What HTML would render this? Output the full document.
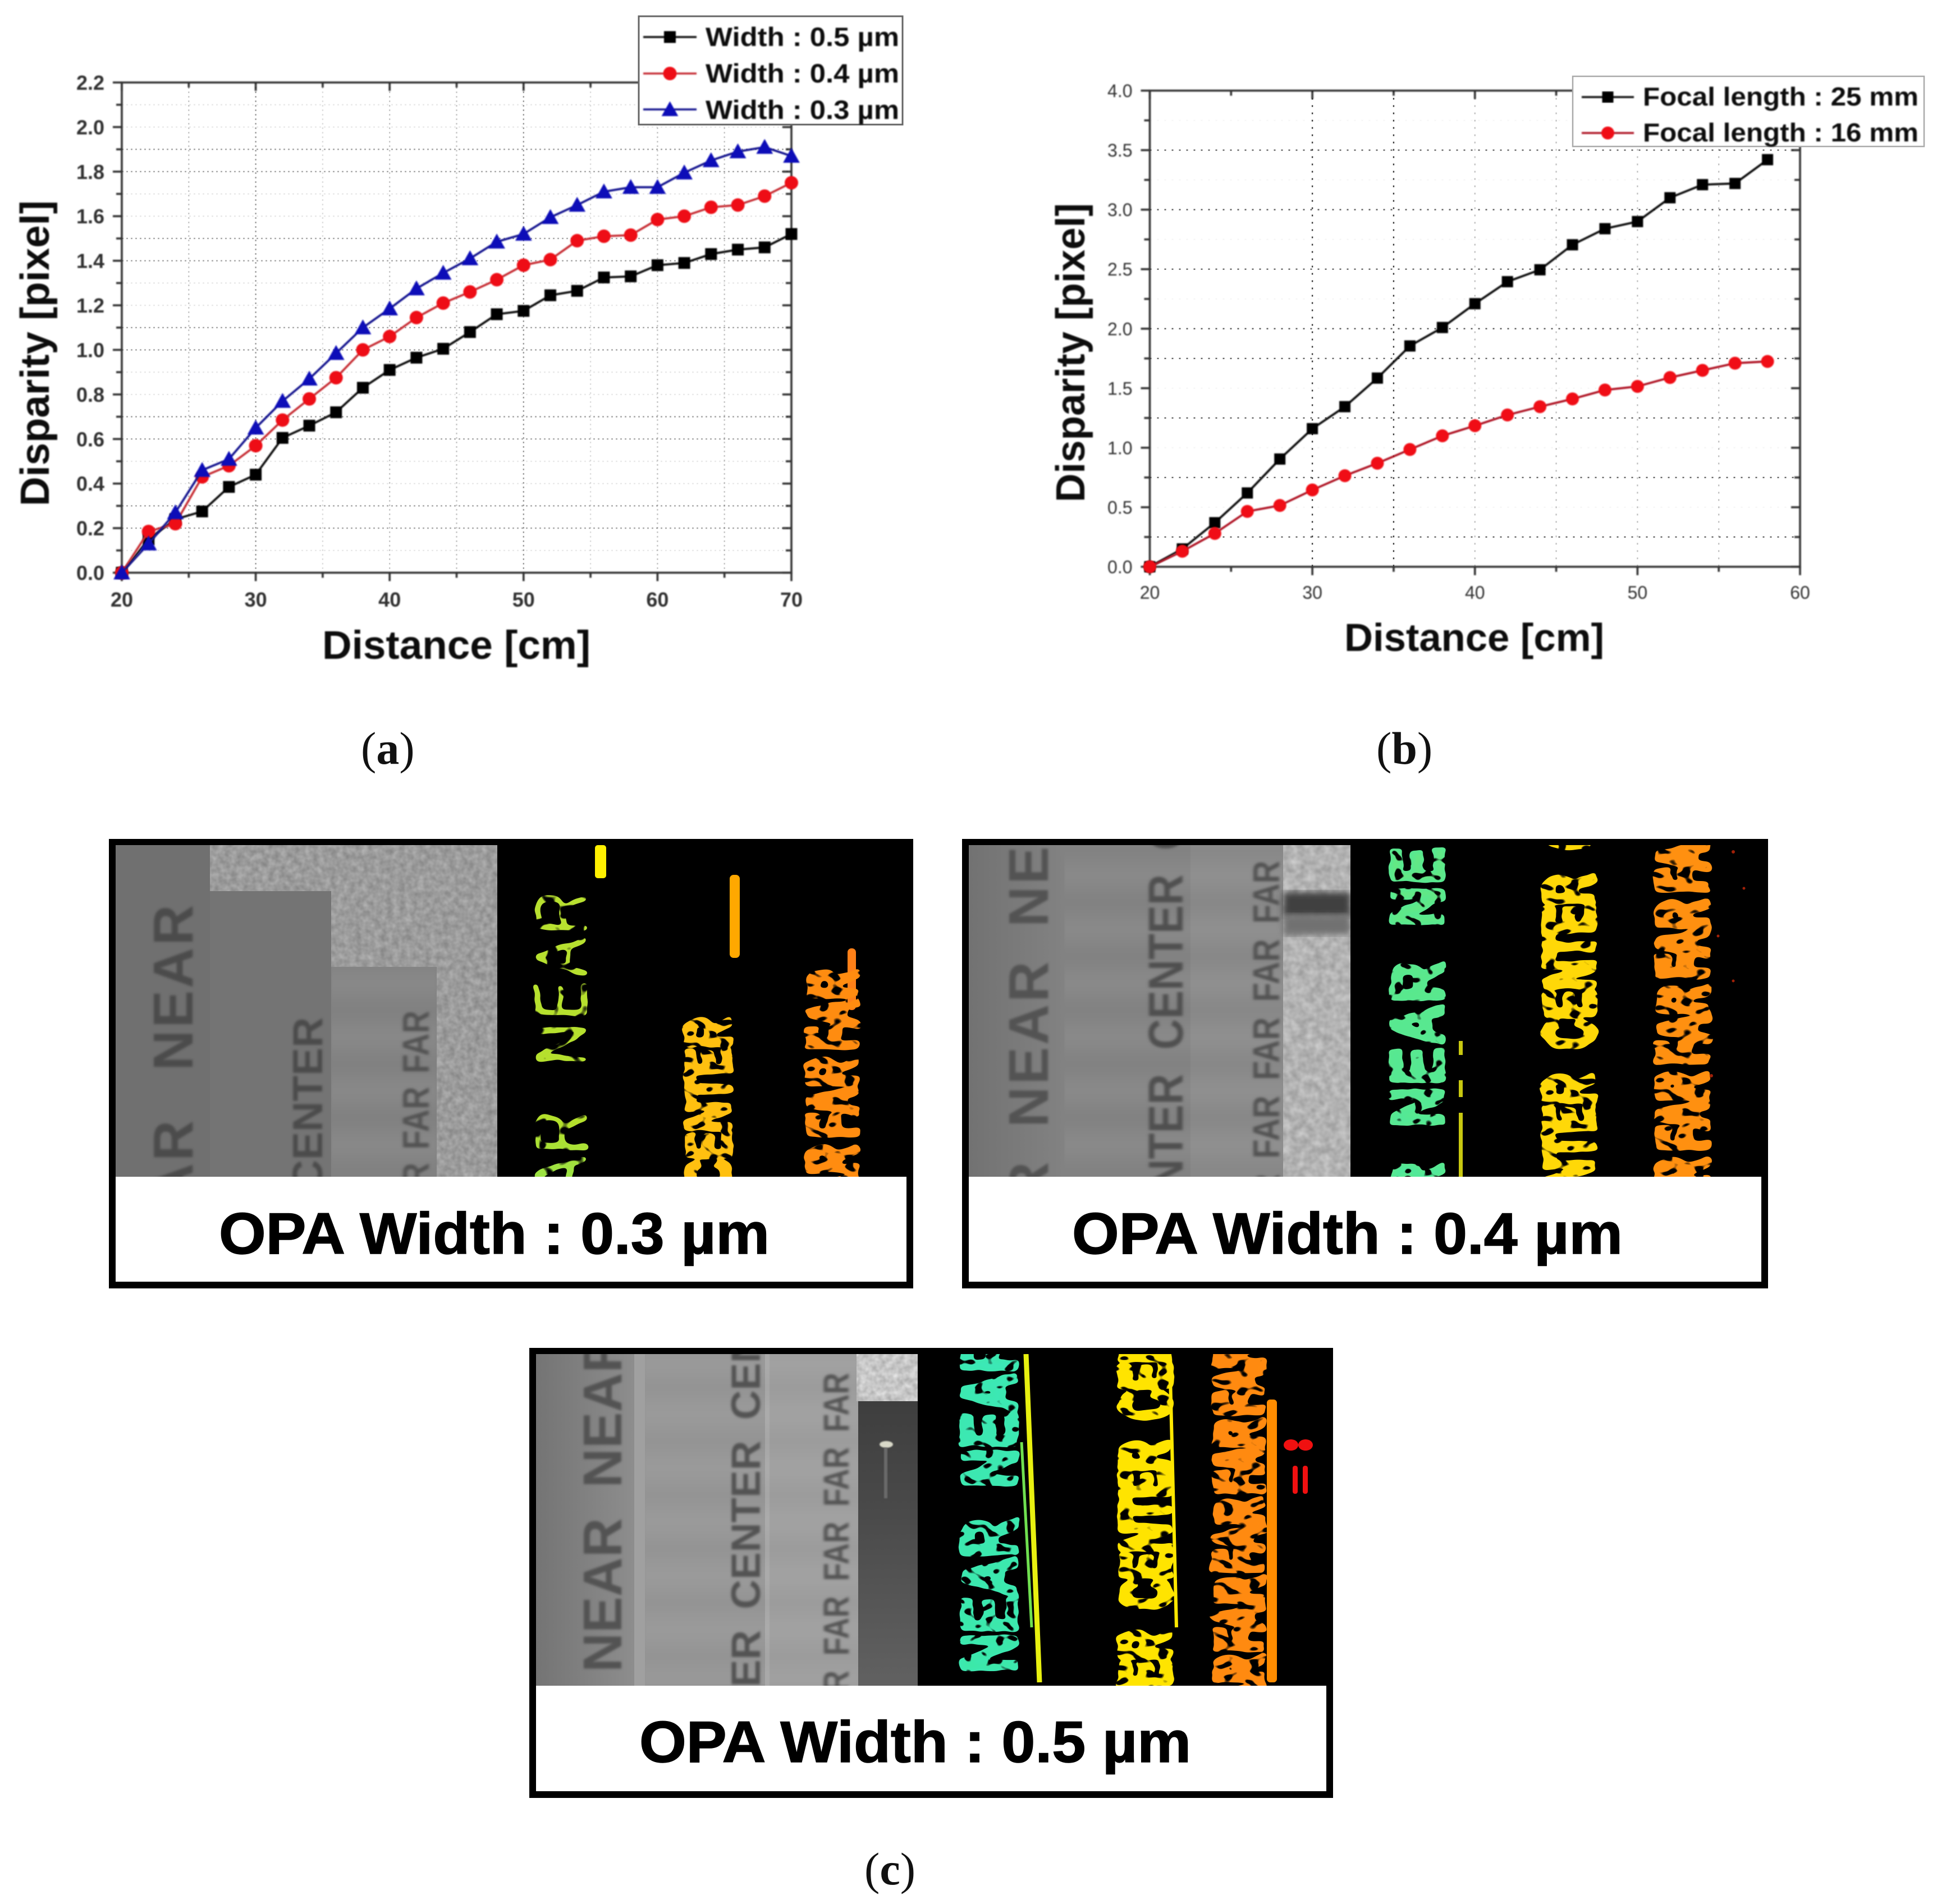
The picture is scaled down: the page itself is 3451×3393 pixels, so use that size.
<!DOCTYPE html>
<html lang="en">
<head>
<meta charset="utf-8">
<title>Disparity charts and OPA width results</title>
<style>
html,body{margin:0;padding:0;background:#fff;width:3451px;height:3393px;overflow:hidden}
svg{display:block;font-family:"Liberation Sans",sans-serif}
</style>
</head>
<body>
<svg id="figure" xmlns="http://www.w3.org/2000/svg" width="3451" height="3393" viewBox="0 0 3451 3393">
<defs>
<filter id="soft" x="-5%" y="-5%" width="110%" height="110%"><feGaussianBlur stdDeviation="1"/></filter>
<filter id="softText" x="-10%" y="-30%" width="120%" height="160%"><feGaussianBlur stdDeviation="1.1"/></filter>
<filter id="blurText" x="-10%" y="-30%" width="120%" height="160%"><feGaussianBlur stdDeviation="2.2"/></filter>
<filter id="blob" x="-10%" y="-30%" width="120%" height="160%" color-interpolation-filters="sRGB">
<feTurbulence type="fractalNoise" baseFrequency="0.05" numOctaves="2" seed="4" result="n"/>
<feDisplacementMap in="SourceGraphic" in2="n" scale="9" xChannelSelector="R" yChannelSelector="G"/>
<feGaussianBlur stdDeviation="2.8"/>
<feComponentTransfer result="body"><feFuncA type="linear" slope="14" intercept="-5.5"/></feComponentTransfer>
<feTurbulence type="fractalNoise" baseFrequency="0.075" numOctaves="1" seed="12"/>
<feColorMatrix type="matrix" values="0 0 0 0 0  0 0 0 0 0  0 0 0 0 0  0 0 0 16 -9.4" result="holes"/>
<feComposite in="body" in2="holes" operator="out"/>
</filter>
<filter id="sparse" x="-10%" y="-30%" width="120%" height="160%" color-interpolation-filters="sRGB">
<feTurbulence type="fractalNoise" baseFrequency="0.035" numOctaves="2" seed="9" result="n"/>
<feDisplacementMap in="SourceGraphic" in2="n" scale="12" xChannelSelector="R" yChannelSelector="G"/>
<feGaussianBlur stdDeviation="3.5"/>
<feComponentTransfer result="body"><feFuncA type="linear" slope="16" intercept="-7.5"/></feComponentTransfer>
<feTurbulence type="fractalNoise" baseFrequency="0.05" numOctaves="1" seed="21"/>
<feColorMatrix type="matrix" values="0 0 0 0 0  0 0 0 0 0  0 0 0 0 0  0 0 0 16 -8.6" result="holes"/>
<feComposite in="body" in2="holes" operator="out"/>
</filter>
<filter id="tex1" x="0" y="0" width="100%" height="100%" color-interpolation-filters="sRGB">
<feTurbulence type="fractalNoise" baseFrequency="0.09" numOctaves="2" seed="3"/>
<feColorMatrix type="matrix" values="0.22 0 0 0 0.5  0.22 0 0 0 0.5  0.22 0 0 0 0.5  0 0 0 0 1"/>
</filter>
<filter id="tex2" x="0" y="0" width="100%" height="100%" color-interpolation-filters="sRGB">
<feTurbulence type="fractalNoise" baseFrequency="0.07" numOctaves="2" seed="6"/>
<feColorMatrix type="matrix" values="0.25 0 0 0 0.575  0.25 0 0 0 0.575  0.25 0 0 0 0.575  0 0 0 0 1"/>
</filter>
<filter id="tex3" x="0" y="0" width="100%" height="100%" color-interpolation-filters="sRGB">
<feTurbulence type="fractalNoise" baseFrequency="0.09" numOctaves="2" seed="8"/>
<feColorMatrix type="matrix" values="0.28 0 0 0 0.64  0.28 0 0 0 0.64  0.28 0 0 0 0.64  0 0 0 0 1"/>
</filter>
<filter id="bandBlur" x="0" y="0" width="100%" height="100%"><feGaussianBlur stdDeviation="2 14"/></filter>
<filter id="edgeBlur" x="-10%" y="-10%" width="120%" height="120%"><feGaussianBlur stdDeviation="6"/></filter>
<pattern id="bands" width="10" height="96" patternUnits="userSpaceOnUse"><rect width="10" height="48" fill="#fff" fill-opacity="0.06"/></pattern>
<clipPath id="clip1"><rect x="206" y="1506" width="680" height="591"/></clipPath>
<clipPath id="clip1d"><rect x="886" y="1506" width="729" height="591"/></clipPath>
<clipPath id="clip2"><rect x="1726" y="1506" width="680" height="591"/></clipPath>
<clipPath id="clip2d"><rect x="2406" y="1506" width="732" height="591"/></clipPath>
<clipPath id="clip3"><rect x="955" y="2413" width="680" height="591"/></clipPath>
<clipPath id="clip3d"><rect x="1635" y="2413" width="727" height="591"/></clipPath>
<linearGradient id="g1near" x1="0" x2="1" y1="0" y2="0"><stop offset="0" stop-color="#66e878"/><stop offset=".4" stop-color="#b4e02c"/><stop offset="1" stop-color="#b8e030"/></linearGradient>
<linearGradient id="g2near" x1="0" x2="1" y1="0" y2="0"><stop offset="0" stop-color="#48e8a8"/><stop offset=".6" stop-color="#5ae88c"/><stop offset="1" stop-color="#70e878"/></linearGradient>
<linearGradient id="g3near" x1="0" x2="1" y1="0" y2="0"><stop offset="0" stop-color="#3ce8a8"/><stop offset="1" stop-color="#3ce8b8"/></linearGradient>
<linearGradient id="g3dark" x1="0" x2="0" y1="0" y2="1"><stop offset="0" stop-color="#3e3e3e"/><stop offset=".4" stop-color="#4a4a4a"/><stop offset="1" stop-color="#616161"/></linearGradient>
<linearGradient id="g3strip" x1="0" x2="1" y1="0" y2="0"><stop offset="0" stop-color="#747474"/><stop offset="1" stop-color="#8e8e8e"/></linearGradient>
<linearGradient id="g2strip" x1="0" x2="1" y1="0" y2="0"><stop offset="0" stop-color="#727272"/><stop offset="1" stop-color="#828282"/></linearGradient>
</defs>

<rect x="0" y="0" width="3451" height="3393" fill="#fff"/>

<g id="chartA">
  <text x="574" y="1174" textLength="478" lengthAdjust="spacingAndGlyphs" font-size="71" font-weight="bold" fill="#111" filter="url(#softText)">Distance [cm]</text>
  <text transform="translate(87,902) rotate(-90)" textLength="545" lengthAdjust="spacingAndGlyphs" font-size="72" font-weight="bold" fill="#111" filter="url(#softText)">Disparity [pixel]</text>
</g>
<g id="legendA">
  <rect x="1138" y="29" width="470" height="193" fill="#fff" stroke="#666" stroke-width="3"/>
  <text x="1257" y="82" textLength="345" lengthAdjust="spacingAndGlyphs" font-size="47" font-weight="bold" fill="#111" filter="url(#softText)">Width : 0.5 µm</text>
  <text x="1257" y="147" textLength="345" lengthAdjust="spacingAndGlyphs" font-size="47" font-weight="bold" fill="#111" filter="url(#softText)">Width : 0.4 µm</text>
  <text x="1257" y="212" textLength="345" lengthAdjust="spacingAndGlyphs" font-size="47" font-weight="bold" fill="#111" filter="url(#softText)">Width : 0.3 µm</text>
</g>

<g id="chartB">
  <text x="2395" y="1160" textLength="463" lengthAdjust="spacingAndGlyphs" font-size="70" font-weight="bold" fill="#111" filter="url(#softText)">Distance [cm]</text>
  <text transform="translate(1932,895) rotate(-90)" textLength="533" lengthAdjust="spacingAndGlyphs" font-size="72" font-weight="bold" fill="#111" filter="url(#softText)">Disparity [pixel]</text>
</g>
<g id="legendB">
  <rect x="2802" y="136" width="626" height="125" fill="#fff" stroke="#aaa" stroke-width="2.5"/>
  <text x="2927" y="188" textLength="491" lengthAdjust="spacingAndGlyphs" font-size="46" font-weight="bold" fill="#111" filter="url(#softText)">Focal length : 25 mm</text>
  <text x="2927" y="252" textLength="491" lengthAdjust="spacingAndGlyphs" font-size="46" font-weight="bold" fill="#111" filter="url(#softText)">Focal length : 16 mm</text>
</g>

<text x="643" y="1361" font-family="'Liberation Serif',serif" font-size="82" fill="#111">(<tspan font-weight="bold">a</tspan>)</text>
<text x="2452" y="1361" font-family="'Liberation Serif',serif" font-size="82" fill="#111">(<tspan font-weight="bold">b</tspan>)</text>
<text x="1540" y="3358" font-family="'Liberation Serif',serif" font-size="82" fill="#111">(<tspan font-weight="bold">c</tspan>)</text>

<!-- Panel 1 -->
<g>
  <rect x="194" y="1495" width="1433" height="801" fill="#000"/>
  <rect x="206" y="2097" width="1409" height="187" fill="#fff"/>
  <g clip-path="url(#clip1)">
    <rect x="206" y="1506" width="680" height="591" filter="url(#tex1)"/>
    <rect x="206" y="1506" width="168" height="591" fill="#707070"/>
    <rect x="374" y="1588" width="216" height="509" fill="#747474"/>
    <rect x="590" y="1723" width="188" height="374" fill="#818181"/>
    <rect x="590" y="1723" width="188" height="374" fill="url(#bands)" filter="url(#bandBlur)"/>
    <text transform="translate(343,2292) rotate(-90)" font-size="100" font-weight="bold" letter-spacing="4" word-spacing="53" fill="#4c4c4c" filter="url(#blurText)">NEAR NEAR</text>
    <text transform="translate(574,2121) rotate(-90)" font-size="75" font-weight="bold" fill="#4c4c4c" filter="url(#blurText)">CENTER</text>
    <text transform="translate(764,2184) rotate(-90) scale(1,1.2)" font-size="56" font-weight="bold" word-spacing="8" fill="#525252" filter="url(#blurText)">FAR FAR FAR</text>
  </g>
  <g clip-path="url(#clip1d)">
    <rect x="886" y="1506" width="729" height="591" fill="#000"/>
    <rect x="1060" y="1506" width="20" height="59" rx="5" fill="#fff000"/>
    <rect x="1300" y="1559" width="18" height="148" rx="7" fill="#ffa800"/>
    <rect x="1510" y="1690" width="15" height="110" rx="7" fill="#ff8018"/>
    <text transform="translate(1046,2290) rotate(-90) scale(1,1.25)" font-size="108" fill="url(#g1near)" letter-spacing="4" word-spacing="40" filter="url(#sparse)">NEAR NEAR</text>
    <text transform="translate(1301,2121) rotate(-90) scale(1,1.5)" font-size="75" font-weight="bold" fill="#ffc010" stroke="#ffc010" stroke-width="5" filter="url(#blob)">CENTER</text>
    <text transform="translate(1525,2184) rotate(-90) scale(1,1.7)" font-size="72" font-weight="bold" fill="#ff8c10" stroke="#ff8c10" stroke-width="6" word-spacing="-8" filter="url(#blob)">FAR FAR FAR</text>
  </g>
  <text x="390" y="2234" textLength="981" lengthAdjust="spacingAndGlyphs" font-size="104" font-weight="bold" fill="#000" stroke="#000" stroke-width="1.5">OPA Width : 0.3 µm</text>
</g>

<!-- Panel 2 -->
<g>
  <rect x="1714" y="1495" width="1436" height="801" fill="#000"/>
  <rect x="1726" y="2097" width="1412" height="187" fill="#fff"/>
  <g clip-path="url(#clip2)">
    <rect x="2286" y="1506" width="120" height="591" filter="url(#tex2)"/>
    <rect x="1726" y="1506" width="170" height="591" fill="url(#g2strip)"/>
    <rect x="1896" y="1506" width="225" height="591" fill="#828282"/>
    <rect x="2121" y="1506" width="165" height="591" fill="#888"/>
    <rect x="1896" y="1506" width="390" height="591" fill="url(#bands)" filter="url(#bandBlur)"/>
    <rect x="2286" y="1590" width="120" height="44" fill="#3f3f3f" filter="url(#edgeBlur)"/>
    <rect x="2286" y="1630" width="120" height="36" fill="#717171" filter="url(#edgeBlur)"/>
    <text transform="translate(1867,2366) rotate(-90)" font-size="100" font-weight="bold" letter-spacing="4" word-spacing="26" fill="#525252" filter="url(#blurText)">NEAR NEAR NEAR</text>
    <text transform="translate(2107,2226) rotate(-90) scale(1,1.15)" font-size="76" font-weight="bold" word-spacing="22" fill="#505050" filter="url(#blurText)">CENTER CENTER CENTER</text>
    <text transform="translate(2279,2204) rotate(-90) scale(1,1.2)" font-size="56" font-weight="bold" word-spacing="12" fill="#525252" filter="url(#blurText)">FAR FAR FAR FAR FAR</text>
  </g>
  <g clip-path="url(#clip2d)">
    <rect x="2406" y="1506" width="732" height="591" fill="#000"/>
    <rect x="2599" y="1855" width="7" height="242" fill="#c8c810"/>
    <rect x="2599" y="1880" width="8" height="45" fill="#000"/>
    <rect x="2599" y="1955" width="8" height="28" fill="#000"/>
    <text transform="translate(2571,2366) rotate(-90) scale(1,1.32)" font-size="100" font-weight="bold" fill="url(#g2near)" stroke="#58e890" stroke-width="5" letter-spacing="4" word-spacing="26" filter="url(#blob)">NEAR NEAR NEAR</text>
    <text transform="translate(2839,2226) rotate(-90) scale(1,1.65)" font-size="76" font-weight="bold" fill="#ffd808" stroke="#ffd808" stroke-width="6" word-spacing="22" filter="url(#blob)">CENTER CENTER CENTER</text>
    <text transform="translate(3040,2204) rotate(-90) scale(1,1.75)" font-size="70" font-weight="bold" fill="#ff9010" stroke="#ff9010" stroke-width="8" word-spacing="-6" filter="url(#blob)">FAR FAR FAR FAR FAR</text>
    <circle cx="3088" cy="1518" r="3" fill="#a02008"/>
    <circle cx="3107" cy="1583" r="2.5" fill="#a02008"/>
    <circle cx="3061" cy="1668" r="2.5" fill="#a02008"/>
    <circle cx="3088" cy="1748" r="2.5" fill="#a02008"/>
    <circle cx="3049" cy="1917" r="3" fill="#a02008"/>
  </g>
  <text x="1910" y="2234" textLength="981" lengthAdjust="spacingAndGlyphs" font-size="104" font-weight="bold" fill="#000" stroke="#000" stroke-width="1.5">OPA Width : 0.4 µm</text>
</g>

<!-- Panel 3 -->
<g>
  <rect x="943" y="2402" width="1432" height="802" fill="#000"/>
  <rect x="955" y="3004" width="1408" height="188" fill="#fff"/>
  <g clip-path="url(#clip3)">
    <rect x="955" y="2413" width="180" height="591" fill="url(#g3strip)"/>
    <rect x="1130" y="2413" width="20" height="591" fill="#a0a0a0"/>
    <rect x="1149" y="2413" width="216" height="591" fill="#949494"/>
    <rect x="1363" y="2413" width="8" height="591" fill="#a6a6a6"/>
    <rect x="1371" y="2413" width="158" height="591" fill="#9c9c9c"/>
    <rect x="1149" y="2413" width="380" height="591" fill="url(#bands)" filter="url(#bandBlur)"/>
    <rect x="1526" y="2413" width="109" height="84" filter="url(#tex3)"/>
    <rect x="1529" y="2497" width="106" height="507" fill="url(#g3dark)"/>
    <ellipse cx="1579" cy="2574" rx="12" ry="6" fill="#d8d8c8" filter="url(#softText)"/>
    <rect x="1575" y="2580" width="6" height="90" fill="#6a6a6a" filter="url(#softText)"/>
    <text transform="translate(1107,2980) rotate(-90)" font-size="97" font-weight="bold" word-spacing="27" fill="#525252" filter="url(#blurText)">NEAR NEAR</text>
    <text transform="translate(1354,3205) rotate(-90)" font-size="73" font-weight="bold" word-spacing="17" fill="#525252" filter="url(#blurText)">CENTER CENTER CENTER</text>
    <text transform="translate(1512,3083) rotate(-90) scale(1,1.2)" font-size="53" font-weight="bold" word-spacing="12" fill="#555" filter="url(#blurText)">FAR FAR FAR FAR FAR</text>
  </g>
  <g clip-path="url(#clip3d)">
    <rect x="1635" y="2413" width="727" height="591" fill="#000"/>
    <line x1="1828" y1="2413" x2="1852" y2="2998" stroke="#e8f010" stroke-width="9"/>
    <line x1="1820" y1="2570" x2="1838" y2="2900" stroke="#70e050" stroke-width="5"/>
    <line x1="2084" y1="2413" x2="2096" y2="2900" stroke="#ffe800" stroke-width="6"/>
    <text transform="translate(1810,2980) rotate(-90) scale(1,1.42)" font-size="97" font-weight="bold" fill="url(#g3near)" stroke="#3ce8b0" stroke-width="5" word-spacing="27" filter="url(#blob)">NEAR NEAR</text>
    <text transform="translate(2084,3205) rotate(-90) scale(1,1.72)" font-size="73" font-weight="bold" fill="#ffe400" stroke="#ffe400" stroke-width="6" word-spacing="17" filter="url(#blob)">CENTER CENTER CENTER</text>
    <text transform="translate(2247,3083) rotate(-90) scale(1,1.75)" font-size="66" font-weight="bold" fill="#ff8a10" stroke="#ff8a10" stroke-width="8" word-spacing="-10" filter="url(#blob)">FAR FAR FAR FAR FAR</text>
    <rect x="2257" y="2494" width="18" height="504" rx="6" fill="#ff8c00"/>
    <ellipse cx="2300" cy="2575" rx="13" ry="10" fill="#f01010"/>
    <ellipse cx="2326" cy="2575" rx="13" ry="10" fill="#f01010"/>
    <rect x="2303" y="2612" width="9" height="50" rx="4" fill="#f01010"/>
    <rect x="2321" y="2612" width="9" height="50" rx="4" fill="#f01010"/>
  </g>
  <text x="1139" y="3140" textLength="983" lengthAdjust="spacingAndGlyphs" font-size="104" font-weight="bold" fill="#000" stroke="#000" stroke-width="1.5">OPA Width : 0.5 µm</text>
</g>

<script>
// Chart (a) data
const xValuesA = [20,22,24,26,28,30,32,34,36,38,40,42,44,46,48,50,52,54,56,58,60,62,64,66,68,70];
const width05 = [0,0.15,0.24,0.275,0.385,0.44,0.605,0.66,0.72,0.83,0.91,0.965,1.005,1.08,1.16,1.175,1.245,1.265,1.325,1.33,1.38,1.39,1.43,1.45,1.46,1.52];
const width04 = [0,0.185,0.22,0.43,0.48,0.57,0.685,0.78,0.875,1.0,1.06,1.145,1.21,1.26,1.315,1.38,1.405,1.49,1.51,1.515,1.585,1.6,1.64,1.65,1.69,1.75];
const width03 = [0,0.13,0.27,0.46,0.51,0.65,0.77,0.87,0.985,1.1,1.185,1.275,1.345,1.41,1.485,1.52,1.595,1.65,1.71,1.73,1.73,1.795,1.85,1.89,1.91,1.87];
const xTickLabelsA = ["20","30","40","50","60","70"];
const yTickLabelsA = ["0.0","0.2","0.4","0.6","0.8","1.0","1.2","1.4","1.6","1.8","2.0","2.2"];

// Chart (b) data
const xValuesB = [20,22,24,26,28,30,32,34,36,38,40,42,44,46,48,50,52,54,56,58];
const focal25 = [0,0.15,0.37,0.62,0.905,1.16,1.345,1.585,1.855,2.01,2.21,2.395,2.495,2.705,2.84,2.9,3.1,3.21,3.22,3.42];
const focal16 = [0,0.13,0.28,0.465,0.515,0.645,0.765,0.87,0.985,1.1,1.185,1.275,1.345,1.41,1.485,1.515,1.59,1.65,1.71,1.725];
const xTickLabelsB = ["20","30","40","50","60"];
const yTickLabelsB = ["0.0","0.5","1.0","1.5","2.0","2.5","3.0","3.5","4.0"];

const NS = "http://www.w3.org/2000/svg";
function make(tag, attrs, parent) {
  const el = document.createElementNS(NS, tag);
  for (const k in attrs) el.setAttribute(k, attrs[k]);
  parent.appendChild(el);
  return el;
}
function drawMarker(parent, kind, cx, cy, size, color, seriesName) {
  let m;
  if (kind === "square") {
    m = make("rect", {x: cx - size / 2, y: cy - size / 2, width: size, height: size, fill: color}, parent);
  } else if (kind === "circle") {
    m = make("circle", {cx: cx, cy: cy, r: size / 2, fill: color}, parent);
  } else {
    const h = size * 0.98, w = size * 1.1;
    m = make("polygon", {points: (cx - w / 2) + "," + (cy + h * 0.45) + " " + (cx + w / 2) + "," + (cy + h * 0.45) + " " + cx + "," + (cy - h * 0.55), fill: color}, parent);
  }
  
  
}
function drawChart(cfg) {
  const sx = v => cfg.left + (v - cfg.xMin) / (cfg.xMax - cfg.xMin) * (cfg.right - cfg.left);
  const sy = v => cfg.bottom - (v - cfg.yMin) / (cfg.yMax - cfg.yMin) * (cfg.bottom - cfg.top);
  const root = cfg.root;

  const grid = make("g", {stroke: cfg.gridColor, "stroke-width": 2.4, "stroke-dasharray": cfg.gridDash, fill: "none"}, root);
  
  
  const gridX = Math.round((cfg.xMax - cfg.xMin) / cfg.xMinor);
  for (let i = 1; i < gridX; i++) {
    const v = cfg.xMin + i * cfg.xMinor;
    make("line", {x1: sx(v), x2: sx(v), y1: cfg.top, y2: cfg.bottom, opacity: cfg.vGridOpacity(i)}, grid);
  }
  const gridY = Math.round((cfg.yMax - cfg.yMin) / cfg.yMinor);
  for (let i = 1; i < gridY; i++) {
    const v = cfg.yMin + i * cfg.yMinor;
    make("line", {x1: cfg.left, x2: cfg.right, y1: sy(v), y2: sy(v), opacity: cfg.hGridOpacity(i)}, grid);
  }

  const axes = make("g", {stroke: "#333", "stroke-width": 3.6, fill: "none", filter: "url(#soft)"}, root);
  
  
  make("rect", {x: cfg.left, y: cfg.top, width: cfg.right - cfg.left, height: cfg.bottom - cfg.top}, axes);

  for (let i = 0; i <= gridX; i++) {
    const x = sx(cfg.xMin + i * cfg.xMinor), len = i % 2 === 0 ? 15 : 9;
    make("line", {x1: x, x2: x, y1: cfg.bottom, y2: cfg.bottom + len}, axes);
    make("line", {x1: x, x2: x, y1: cfg.top, y2: cfg.top + len}, axes);
  }
  for (let i = 0; i <= gridY; i++) {
    const y = sy(cfg.yMin + i * cfg.yMinor), len = i % 2 === 0 ? 16 : 10;
    make("line", {x1: cfg.left - len, x2: cfg.left, y1: y, y2: y}, axes);
    make("line", {x1: cfg.right - len, x2: cfg.right, y1: y, y2: y}, axes);
  }

  cfg.xLabels.forEach(label => {
    const t = make("text", {x: sx(Number(label)), y: cfg.xLabelY, "text-anchor": "middle", "font-size": cfg.tickSize, "font-weight": cfg.tickWeight, fill: "#333", filter: "url(#softText)"}, root);
    t.textContent = label;
    
    
  });
  cfg.yLabels.forEach(label => {
    const t = make("text", {x: cfg.left - 31, y: sy(Number(label)) + cfg.tickSize * 0.36, "text-anchor": "end", "font-size": cfg.tickSize, "font-weight": cfg.tickWeight, fill: "#333", filter: "url(#softText)"}, root);
    t.textContent = label;
    
    
  });

  cfg.series.forEach(s => {
    const g = make("g", {filter: "url(#soft)"}, root);
    
    
    const pts = s.values.map((v, i) => sx(cfg.xs[i]) + "," + sy(v)).join(" ");
    const line = make("polyline", {points: pts, fill: "none", stroke: s.lineColor, "stroke-width": 3.8}, g);
    
    
    s.values.forEach((v, i) => drawMarker(g, s.kind, sx(cfg.xs[i]), sy(v), s.size, s.color, s.name));
  });
}
function drawLegendKey(parent, x1, x2, y, s) {
  const g = make("g", {filter: "url(#soft)"}, parent);
  
  
  const l = make("line", {x1: x1, x2: x2, y1: y, y2: y, stroke: s.lineColor, "stroke-width": 3.4}, g);
  
  
  drawMarker(g, s.kind, (x1 + x2) / 2, y, s.size, s.color, s.name + '-legend');
}

const seriesA = [
  {name: "series-width-0-5", values: width05, kind: "square", size: 21, color: "#000", lineColor: "#111"},
  {name: "series-width-0-4", values: width04, kind: "circle", size: 24, color: "#ee0a14", lineColor: "#c83038"},
  {name: "series-width-0-3", values: width03, kind: "triangle", size: 27, color: "#0a0ab8", lineColor: "#181890"}
];
const seriesB = [
  {name: "series-focal-25", values: focal25, kind: "square", size: 20, color: "#000", lineColor: "#111"},
  {name: "series-focal-16", values: focal16, kind: "circle", size: 23, color: "#f00a14", lineColor: "#b01828"}
];

const rootA = document.getElementById("chartA");
drawChart({root: rootA, left: 217, right: 1410, top: 147, bottom: 1020.6, xMin: 20, xMax: 70, yMin: 0, yMax: 2.2,
  xMinor: 5, yMinor: 0.1, xs: xValuesA, xLabels: xTickLabelsA, yLabels: yTickLabelsA, xLabelY: 1081,
  tickSize: 36, tickWeight: "bold", gridColor: "#666", gridDash: "3 5",
  vGridOpacity: i => [0.35, 0.6, 0.2, 0.35][(i - 1) % 4],
  hGridOpacity: i => (i % 4 === 2 || i % 4 === 3) ? 0.55 : 0.14,
  series: seriesA});
const rootB = document.getElementById("chartB");
drawChart({root: rootB, left: 2048.5, right: 3207, top: 161.5, bottom: 1010, xMin: 20, xMax: 60, yMin: 0, yMax: 4,
  xMinor: 5, yMinor: 0.25, xs: xValuesB, xLabels: xTickLabelsB, yLabels: yTickLabelsB, xLabelY: 1067,
  tickSize: 32, tickWeight: "normal", gridColor: "#222", gridDash: "3 10",
  vGridOpacity: i => i === 1 ? 0 : (i <= 3 ? 0.9 : 0.28),
  hGridOpacity: i => ((i % 2 === 1 && i <= 7) || (i % 2 === 0 && i >= 8)) ? 0.7 : 0.04,
  series: seriesB});

const legendA = document.getElementById("legendA");
drawLegendKey(legendA, 1146, 1241, 66, seriesA[0]);
drawLegendKey(legendA, 1146, 1241, 131, seriesA[1]);
drawLegendKey(legendA, 1146, 1241, 195, seriesA[2]);
const legendB = document.getElementById("legendB");
drawLegendKey(legendB, 2818, 2911, 173, seriesB[0]);
drawLegendKey(legendB, 2818, 2911, 237, seriesB[1]);
// keep legends above the plot areas
document.getElementById("figure").insertBefore(rootA, legendA);
document.getElementById("figure").insertBefore(rootB, legendB);
</script>
</svg>
</body>
</html>
